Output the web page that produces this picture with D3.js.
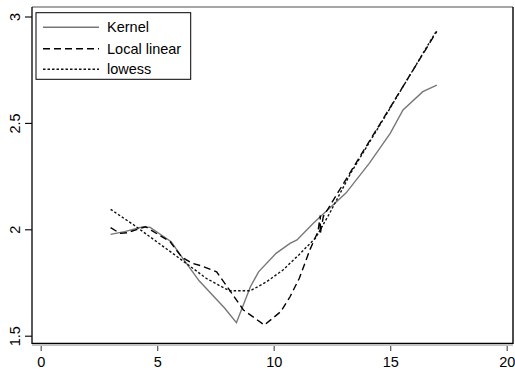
<!DOCTYPE html>
<html lang="en">
<head>
<meta charset="UTF-8">
<title>Kernel vs local linear vs lowess</title>
<script src="https://d3js.org/d3.v7.min.js"></script>
<style>
  body { margin: 0; background: #fff; }
  text { font-family: "Liberation Sans", Arial, sans-serif; font-size: 14.5px; fill: #000; }
</style>
</head>
<body>
<svg id="chart" width="515" height="370"></svg>
<script>
// data
var kernelX = [3.0, 3.6, 4.4, 4.7, 5.6, 6.0, 6.8, 7.5, 7.9, 8.4, 9.0, 9.35, 10.1, 10.7, 11.0, 11.7, 12.3, 13.1, 14.1, 15.0, 15.55, 16.4, 17.0];
var kernelY = [1.976, 1.989, 2.012, 2.009, 1.942, 1.879, 1.758, 1.676, 1.629, 1.561, 1.73, 1.80, 1.887, 1.934, 1.95, 2.028, 2.09, 2.17, 2.31, 2.451, 2.561, 2.647, 2.678];

var llX = [3.0, 3.4, 3.7, 4.5, 5.55, 6.05, 6.5, 6.9, 7.55, 8.1, 8.7, 9.6, 10.3, 10.7, 11.1, 11.55, 11.9, 12.0, 12.0, 12.13, 13.3, 17.0];
var llY = [2.008, 1.981, 1.984, 2.012, 1.942, 1.87, 1.84, 1.828, 1.80, 1.715, 1.621, 1.55, 1.613, 1.683, 1.77, 1.903, 1.989, 2.065, 1.98, 2.06, 2.27, 2.93];

var lowessX = [3.0, 4.0, 5.0, 6.0, 7.1, 7.6, 8.1, 9.0, 9.7, 10.4, 11.1, 11.8, 12.4, 13.3, 15.0, 17.0];
var lowessY = [2.094, 2.02, 1.94, 1.86, 1.77, 1.74, 1.711, 1.711, 1.754, 1.809, 1.882, 1.96, 2.075, 2.263, 2.57, 2.935];

var xTicks = [0, 5, 10, 15, 20];
var yTicks = [1.5, 2, 2.5, 3];
var labels = ["Kernel", "Local linear", "lowess"];

var svg = d3.select("#chart");

var x = d3.scaleLinear().domain([0, 20]).range([40.7, 506.7]);
var y = d3.scaleLinear().domain([1.5, 3]).range([335.7, 16.5]);

// plot frame
svg.append("line").attr("x1", 32).attr("x2", 513).attr("y1", 7).attr("y2", 7)
    .attr("stroke", "#888").attr("stroke-width", 1.6);
svg.append("line").attr("x1", 513).attr("x2", 513).attr("y1", 7).attr("y2", 344)
    .attr("stroke", "#000").attr("stroke-width", 1.4);
svg.append("line").attr("x1", 32).attr("x2", 513).attr("y1", 345).attr("y2", 345)
    .attr("stroke", "#888").attr("stroke-width", 1.2);

// x axis
var xAxis = d3.axisBottom(x).tickValues(xTicks).tickSize(5).tickPadding(3).tickFormat(d3.format("d"));
var gx = svg.append("g").attr("transform", "translate(0,346)").call(xAxis);
gx.select(".domain").remove();
gx.selectAll(".tick line").attr("stroke", "#555").attr("stroke-width", 1.2);
gx.selectAll(".tick text").attr("font-size", null).attr("font-family", null).attr("dy", "0.92em");

// y axis
var yAxis = d3.axisLeft(y).tickValues(yTicks).tickSize(7).tickFormat(d3.format("~g"));
var gy = svg.append("g").attr("transform", "translate(32,0)").call(yAxis);
gy.select(".domain").attr("d", "M0,7V344").attr("stroke-width", 1.3);
gy.selectAll(".tick line").attr("stroke-width", 1.1);
gy.selectAll(".tick text")
    .attr("font-size", null).attr("font-family", null)
    .attr("x", null).attr("dy", null)
    .attr("text-anchor", "middle")
    .attr("transform", "translate(-12,0) rotate(-90)");

// bottom axis line over the frame
svg.append("line").attr("x1", 32).attr("x2", 513).attr("y1", 343.3).attr("y2", 343.3)
    .attr("stroke", "#000").attr("stroke-width", 1.3);

var line = d3.line().x(function (d) { return x(d[0]); }).y(function (d) { return y(d[1]); });

var series = [
    { xs: kernelX, ys: kernelY, stroke: "#777", dash: null, width: 1.4 },
    { xs: llX, ys: llY, stroke: "#000", dash: "7,4", width: 1.4 },
    { xs: lowessX, ys: lowessY, stroke: "#111", dash: "2.5,2", width: 1.4 }
];

series.forEach(function (s) {
    var pts = s.xs.map(function (v, i) { return [v, s.ys[i]]; });
    svg.append("path")
        .attr("d", line(pts))
        .attr("fill", "none")
        .attr("stroke", s.stroke)
        .attr("stroke-width", s.width)
        .attr("stroke-dasharray", s.dash);
});

// legend
var lg = svg.append("g");
lg.append("rect").attr("x", 36).attr("y", 12.7).attr("width", 154.7).attr("height", 66.6)
    .attr("fill", "#fff").attr("stroke", "#000").attr("stroke-width", 1);
var rowY = [27.3, 48.8, 69.3];
series.forEach(function (s, i) {
    lg.append("line").attr("x1", 43).attr("x2", 99).attr("y1", rowY[i]).attr("y2", rowY[i])
        .attr("stroke", s.stroke).attr("stroke-width", s.width).attr("stroke-dasharray", s.dash);
    lg.append("text").attr("x", 107).attr("y", rowY[i]).attr("dy", "0.35em").text(labels[i]);
});
</script>
</body>
</html>
